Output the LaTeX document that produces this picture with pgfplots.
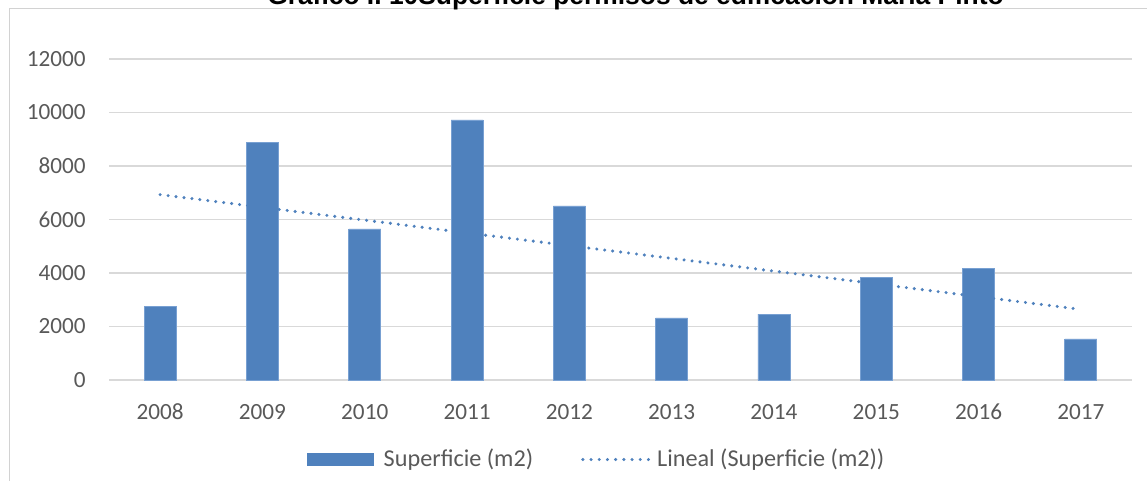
\documentclass[border=0pt]{standalone}
\usepackage{pgfplots}
\pgfplotsset{compat=1.18}
\usepackage{fontspec}
\setmainfont{Carlito}
\newfontfamily\titlefont{Liberation Sans}
\definecolor{barblue}{RGB}{79,129,189}
\definecolor{baredge}{RGB}{120,160,210}
\definecolor{lblgray}{RGB}{89,89,89}
\definecolor{gridgray}{RGB}{217,217,217}
\definecolor{framegray}{RGB}{210,210,210}
\begin{document}
\begin{tikzpicture}
\useasboundingbox (0pt,0pt) rectangle (573.5pt,-240.5pt);
\draw[framegray, line width=0.5pt] (4.5pt,-240.5pt) -- (4.5pt,-4.35pt) -- (573.5pt,-4.35pt);
\node[anchor=base, inner sep=0pt, font=\titlefont\bfseries\fontsize{13.2}{15}\selectfont] at (317.75pt,-2.5pt) {Gráfico I. 10Superficie permisos de edificación María Pinto};
\begin{axis}[
  at={(54.5pt,-190pt)}, anchor=south west,
  scale only axis, width=511.5pt, height=160.5pt,
  xmin=-0.5, xmax=9.5, ymin=0, ymax=12000,
  xtick={0,1,2,3,4,5,6,7,8,9},
  xticklabels={2008,2009,2010,2011,2012,2013,2014,2015,2016,2017},
  ytick={0,2000,4000,6000,8000,10000,12000},
  axis line style={draw=none},
  major tick style={draw=none},
  ymajorgrids, grid style={gridgray, line width=0.75pt},
  /pgf/number format/assume math mode=true,
  scaled y ticks=false,
  yticklabel={\pgfmathprintnumber[fixed,precision=0,1000 sep={}]{\tick}},
  tick label style={font=\fontsize{11.6}{13.8}\selectfont, text=lblgray, inner sep=0pt},
  xticklabel style={anchor=base, yshift=-19.7pt},
  yticklabel style={anchor=east, xshift=-11.5pt},
  legend columns=2,
  legend style={at={(axis description cs:0.1935,-0.2477)}, anchor=west, draw=none, fill=none,
    inner sep=0pt, outer sep=0pt, font=\fontsize{12.1}{14}\selectfont, text=lblgray,
    nodes={inner sep=0pt},
    /tikz/every odd column/.append style={column sep=5pt},
    /tikz/every even column/.append style={column sep=24pt}},
]
\addplot[ybar, bar width=16pt, fill=barblue, draw=baredge, line width=0.4pt,
  legend image code/.code={\fill[barblue] (0pt,-3pt) rectangle (33pt,3pt);}]
  coordinates {(0,2750) (1,8870) (2,5645) (3,9720) (4,6505) (5,2318) (6,2467) (7,3850) (8,4187) (9,1533)};
\addlegendentry{Superficie (m2)}
\addplot[sharp plot, barblue, line width=1.7pt, line cap=round, dash pattern=on 0pt off 4pt,
  legend image code/.code={\path[draw=none, fill=none] (0pt,-3pt) rectangle (33pt,3pt);
    \draw[overlay, barblue, line width=1.7pt, line cap=round, dash pattern=on 0pt off 4.1pt] (0.85pt,0pt) -- (34.2pt,0pt);}]
  coordinates {(0,6930) (9,2640)};
\addlegendentry{Lineal (Superficie (m2))}
\end{axis}
\end{tikzpicture}
\end{document}
